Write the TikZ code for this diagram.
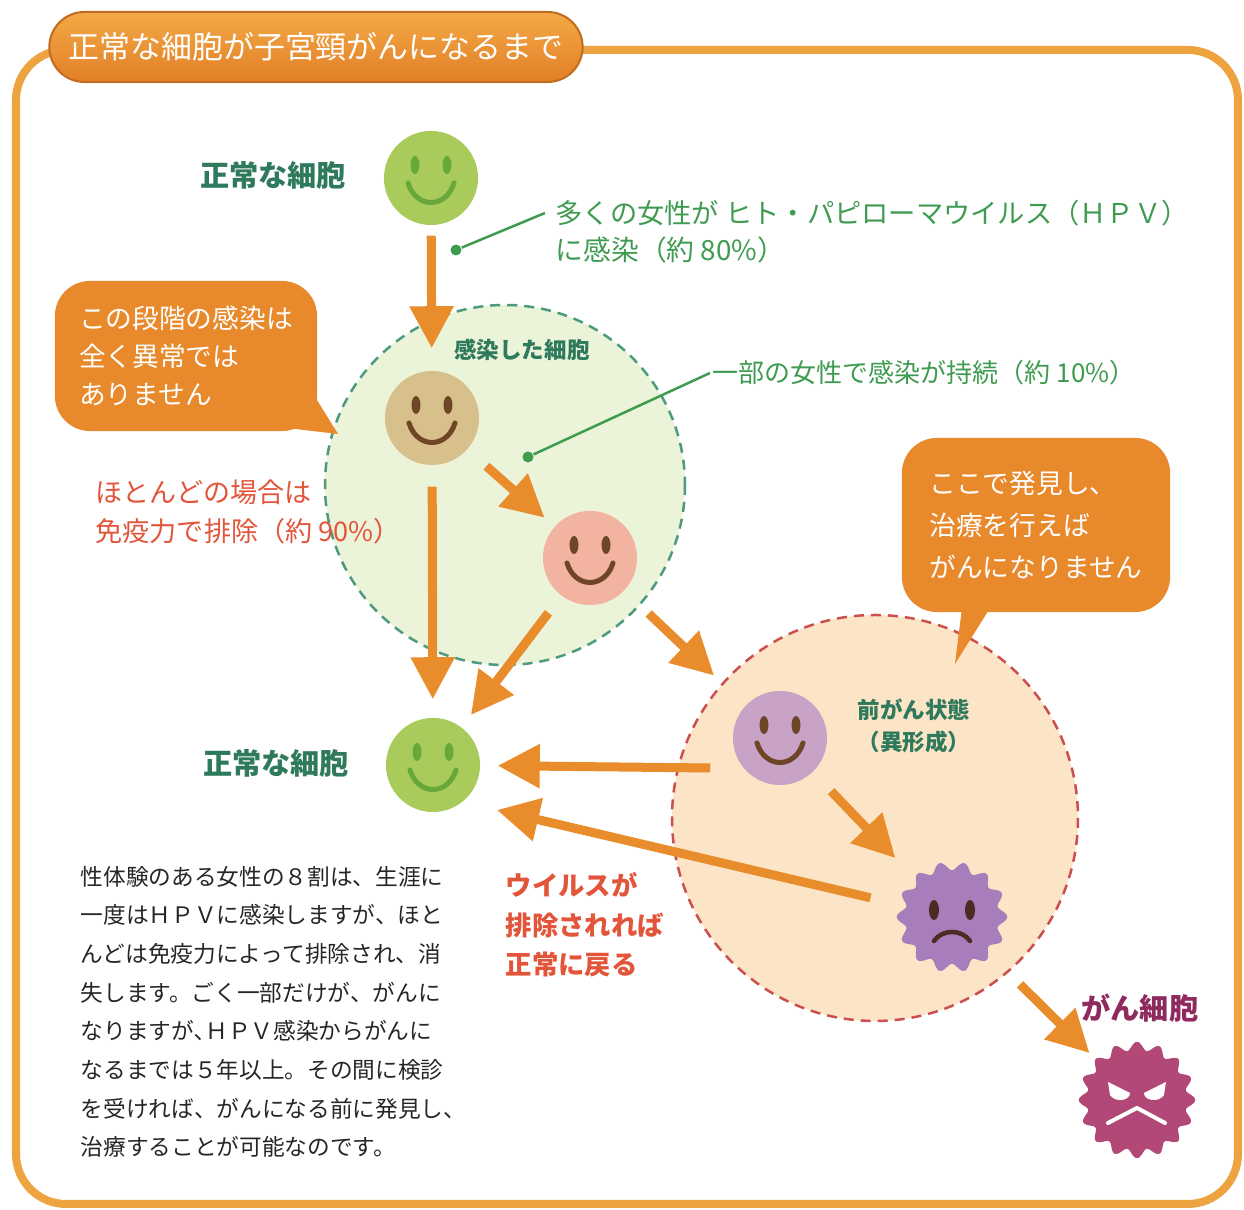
\documentclass[tikz,border=0pt]{standalone}
\usepackage{fontspec}
\setmainfont{Noto Sans CJK JP}
\usetikzlibrary{arrows.meta}

\definecolor{framecol}{HTML}{EDA33F}
\definecolor{flowcol}{HTML}{E98C2B}
\definecolor{bubblecol}{HTML}{E8892B}
\definecolor{leadgreen}{HTML}{3E9B50}
\definecolor{labelgreen}{HTML}{2F7A5C}
\definecolor{redtext}{HTML}{E2553A}
\definecolor{bodytext}{HTML}{262626}
\definecolor{normalfill}{HTML}{A9CB5B}
\definecolor{normalline}{HTML}{68A83A}
\definecolor{infectfill}{HTML}{D8C08C}
\definecolor{pinkfill}{HTML}{F2B4A0}
\definecolor{prefill}{HTML}{C9A3C6}
\definecolor{browncol}{HTML}{6E4526}
\definecolor{dysfill}{HTML}{A77DBB}
\definecolor{dysline}{HTML}{4A2C20}
\definecolor{cancerfill}{HTML}{B24877}
\definecolor{cancertext}{HTML}{8E2A5E}
\definecolor{greenzone}{HTML}{EBF3D9}
\definecolor{greendash}{HTML}{4D9A7D}
\definecolor{peachzone}{HTML}{FCE4C6}
\definecolor{reddash}{HTML}{CC4F4F}
\definecolor{pilltop}{HTML}{F3A946}
\definecolor{pillbot}{HTML}{E27F27}

% eyes and smile on a face node
\newcommand{\smiley}[2]{%
  \begin{scope}[shift={(#1.center)}]
    \fill[#2] (-16,-13) ellipse [x radius=4.5, y radius=9];
    \fill[#2] (16,-13) ellipse [x radius=4.5, y radius=9];
    \draw[#2, line width=0.05cm, line cap=round] (-23,5) .. controls (-15,31) and (15,31) .. (23,5);
  \end{scope}}

% toothed cell body
\newcommand{\gearcell}[4]{%
  \fill[#2, shift={(#1.center)}] plot[domain=0:360, samples=281] (\x:{#3+4.2*cos(#4*\x)}) -- cycle;}

\begin{document}
\begin{tikzpicture}[x=0.01cm, y=-0.01cm,
  face/.style={circle, minimum size=0.94cm, inner sep=0pt},
  cell/.style={circle, minimum size=1.12cm, inner sep=0pt},
  flow/.style={draw=flowcol, line width=0.09cm, -{Triangle[length=0.42cm, width=0.42cm]}},
  leader/.style={draw=leadgreen, line width=0.025cm},
  dot/.style={circle, fill=leadgreen, minimum size=0.11cm, inner sep=0pt},
  zone/.style={line width=0.025cm, dash pattern=on 0.1cm off 0.07cm},
  bubble/.style={fill=bubblecol, rounded corners=0.35cm, text=white, align=left, inner sep=0pt},
  label/.style={text=labelgreen, inner sep=0pt, font={\fontsize{8.3pt}{10pt}\selectfont\bfseries}},
  small/.style={text=labelgreen, inner sep=0pt, align=center, font={\fontsize{6.4pt}{9.1pt}\selectfont\bfseries}},
  note/.style={text=leadgreen, inner sep=0pt, anchor=west, font={\fontsize{7.4pt}{10pt}\selectfont}},
  red/.style={text=redtext, inner sep=0pt, anchor=west, align=left}
]
\useasboundingbox (0,0) rectangle (1244,1210);

% frame and heading
\draw[framecol, line width=0.08cm, rounded corners=0.5cm] (16,50) rectangle (1238,1204);
\node[draw=pillbot!85!black, line width=0.02cm, top color=pilltop, bottom color=pillbot,
  rounded corners=0.35cm, minimum width=5.33cm, minimum height=0.7cm, text=white,
  font={\fontsize{8.8pt}{10pt}\selectfont}] (title) at (316,47) {正常な細胞が子宮頸がんになるまで};

% the two zones
\draw[zone, draw=greendash, fill=greenzone] (505,485) circle [radius=180];
\draw[zone, draw=reddash, fill=peachzone] (875,818) circle [radius=203];

% speech bubbles
\fill[bubblecol] (312,392) -- (338,434) -- (278,427) -- cycle;
\node[bubble, minimum width=2.62cm, minimum height=1.5cm, font={\fontsize{7.6pt}{10.8pt}\selectfont}]
  (warn) at (186,356) {この段階の感染は\\全く異常では\\ありません};
\fill[bubblecol] (963,600) -- (995,600) -- (955,664) -- cycle;
\node[bubble, minimum width=2.68cm, minimum height=1.74cm, font={\fontsize{7.6pt}{11.95pt}\selectfont}]
  (hint) at (1036,525) {ここで発見し、\\治療を行えば\\がんになりません};

% cells
\node[face, fill=normalfill] (top) at (431,178) {};
\node[face, fill=infectfill] (inf) at (432,418) {};
\node[face, fill=pinkfill] (pink) at (590,558) {};
\node[face, fill=normalfill] (bot) at (433,765) {};
\node[face, fill=prefill] (pre) at (780,738) {};
\node[cell] (dys) at (952,917) {};
\node[cell] (can) at (1137,1100) {};

\smiley{top}{normalline}
\smiley{inf}{browncol}
\smiley{pink}{browncol}
\smiley{bot}{normalline}
\smiley{pre}{browncol}

\gearcell{dys}{dysfill}{51}{14}
\begin{scope}[shift={(dys.center)}]
  \fill[dysline] (-18,-7) ellipse [x radius=5, y radius=10];
  \fill[dysline] (18,-7) ellipse [x radius=5, y radius=10];
  \draw[dysline, line width=0.045cm, line cap=round] (-18,24) .. controls (-10,12) and (10,12) .. (18,24);
\end{scope}

\gearcell{can}{cancerfill}{54}{16}
\begin{scope}[shift={(can.center)}]
  \fill[white] (-29,-18) -- (-7,-7) .. controls (-7,1) and (-22,3) .. (-27,-5) -- cycle;
  \fill[white] (29,-18) -- (7,-7) .. controls (7,1) and (22,3) .. (27,-5) -- cycle;
  \draw[white, line width=0.04cm, line cap=round, line join=round] (-29,23) -- (0,8) -- (28,23);
\end{scope}

% labels
\node[label] (l1) at (273,175) {正常な細胞};
\node[label] (l2) at (276,763) {正常な細胞};
\node[small] (l3) at (522,350) {感染した細胞};
\node[small] (l4) at (914,726) {前がん状態\\（異形成）};
\node[label, text=cancertext] (l5) at (1140,1008) {がん細胞};

% leaders
\node[dot] (d1) at (456,250) {};
\node[note, font={\fontsize{7.75pt}{10pt}\selectfont}] (hpv1) at (555,213) {多くの女性が ヒト・パピローマウイルス（ＨＰＶ）};
\node[note, font={\fontsize{7.9pt}{10pt}\selectfont}] (hpv2) at (555,250) {に感染（約 80\%）};
\draw[leader] (d1) -- ([xshift=-0.1cm]hpv1.west);
\node[dot] (d2) at (528,457) {};
\node[note] (keep) at (712,373) {一部の女性で感染が持続（約 10\%）};
\draw[leader] (d2) -- ([xshift=-0.02cm]keep.west);

% red notes
\node[red, font={\fontsize{7.7pt}{11.1pt}\selectfont}] (gone) at (95,512) {ほとんどの場合は\\免疫力で排除（約 90\%）};
\node[red, font={\fontsize{7.5pt}{11.2pt}\selectfont\bfseries}] (back) at (505,925) {ウイルスが\\排除されれば\\正常に戻る};

% body text
\node[text=bodytext, inner sep=0pt, anchor=west, align=left, font={\fontsize{6.45pt}{11pt}\selectfont}] (body) at (80,1012)
  {性体験のある女性の８割は、生涯に\\一度はＨＰＶに感染しますが、ほと\\んどは免疫力によって排除され、消\\失します。ごく一部だけが、がんに\\なりますが､ＨＰＶ感染からがんに\\なるまでは５年以上。その間に検診\\を受ければ、がんになる前に発見し、\\治療することが可能なのです。};

% arrows
\draw[flow, shorten <=0.1cm, shorten >=0.22cm] (top) -- (inf);
\draw[flow, shorten <=0.21cm, shorten >=0.18cm] (inf) -- (bot);
\draw[flow, shorten <=0.25cm, shorten >=0.13cm] (inf) -- (pink);
\draw[flow, shorten <=0.21cm, shorten >=0.15cm] (pink) -- (bot);
\draw[flow, shorten <=0.33cm, shorten >=0.43cm] (pink) -- (pre);
\draw[flow, shorten >=0.17cm] ([xshift=-0.22cm,yshift=-0.03cm]pre.west |- bot) -- (bot);
\coordinate (ret) at (497,810);
\draw[flow, shorten <=0.27cm] (dys) -- (ret);
\draw[flow, shorten <=0.26cm, shorten >=0.25cm] (pre) -- (dys);
\draw[flow, shorten <=0.39cm, shorten >=0.1cm] (dys) -- (can);

\end{tikzpicture}
\end{document}
